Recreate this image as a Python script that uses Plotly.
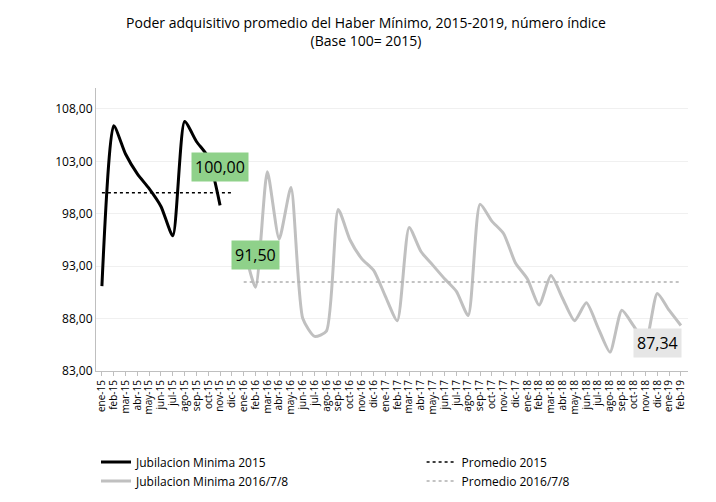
import plotly.graph_objects as go

months = ["ene","feb","mar","abr","may","jun","jul","ago","sep","oct","nov","dic"]
labels = [f"{m}-{y}" for y in range(15, 20) for m in months][:50]

jub2015 = [91.1, 106.4, 103.7, 101.8, 100.4, 98.7, 95.9, 106.8, 104.9, 103.4, 98.8]
jub2016_8 = [94.9, 91.0, 102.0, 95.6, 100.5, 88.0, 86.3, 86.8, 98.4, 95.5, 93.7, 92.6,
             90.1, 87.8, 96.7, 94.4, 93.1, 91.8, 90.6, 88.3, 98.9, 97.3, 96.1, 93.3,
             91.8, 89.3, 92.1, 89.9, 87.8, 89.5, 87.1, 84.8, 88.8, 87.3, 85.7, 90.4,
             88.8, 87.34]
prom2015 = 100.00
prom2016 = 91.50

x15 = labels[:11]
x16 = labels[12:50]

fig = go.Figure()
fig.add_trace(go.Scatter(x=x15, y=jub2015, mode="lines",
                         line=dict(color="black", width=3, shape="spline", smoothing=0.6),
                         name="Jubilacion Minima 2015", legend="legend"))
fig.add_trace(go.Scatter(x=labels[:12], y=[prom2015]*12, mode="lines",
                         line=dict(color="black", width=1.5, dash="dot"), name="Promedio 2015", legend="legend2"))
fig.add_trace(go.Scatter(x=x16, y=jub2016_8, mode="lines",
                         line=dict(color="#c0c0c0", width=3, shape="spline", smoothing=0.6),
                         name="Jubilacion Minima 2016/7/8", legend="legend"))
fig.add_trace(go.Scatter(x=x16, y=[prom2016]*len(x16), mode="lines",
                         line=dict(color="#b0b0b0", width=1.5, dash="dot"), name="Promedio 2016/7/8", legend="legend2"))

font = "Open Sans"
fig.add_annotation(x=labels[10], y=102.5, text="100,00", showarrow=False, bgcolor="#8fd18a",
                   font=dict(size=16, color="black", family=font), borderpad=3)
fig.add_annotation(x=labels[13], y=94.1, text="91,50", showarrow=False, bgcolor="#8fd18a",
                   font=dict(size=16, color="black", family=font), borderpad=3)
fig.add_annotation(x=labels[47], y=85.7, text="87,34", showarrow=False, bgcolor="#e6e6e6",
                   font=dict(size=16, color="black", family=font), borderpad=3)

fig.update_layout(
    width=716, height=502, paper_bgcolor="white", plot_bgcolor="white",
    font=dict(family=font, color="black", size=12),
    margin=dict(l=88, r=36, t=80, b=139),
    title=dict(text="Poder adquisitivo promedio del Haber Mínimo, 2015-2019, número índice<br>(Base 100= 2015)",
               x=0.5, xanchor="center", y=0.96, yanchor="top", font=dict(size=14)),
    xaxis=dict(type="category", categoryorder="array", categoryarray=labels, tickangle=-90,
               tickmode="array", tickvals=labels, ticktext=labels, automargin=False,
               tickfont=dict(size=10), showgrid=False, showline=True, linecolor="#bfbfbf",
               ticks="outside", tickcolor="#bfbfbf", ticklen=4, range=[-0.5, 49.6]),
    yaxis=dict(range=[83, 110], tickvals=[83, 88, 93, 98, 103, 108],
               ticktext=["83,00", "88,00", "93,00", "98,00", "103,00", "108,00"],
               showgrid=True, gridcolor="#f0f0f0", showline=True, linecolor="#bfbfbf",
               tickfont=dict(size=12), zeroline=False),
    legend=dict(x=0.0, y=-0.27, xanchor="left", yanchor="top", font=dict(size=12),
                tracegroupgap=0, bgcolor="rgba(0,0,0,0)"),
    legend2=dict(x=0.55, y=-0.27, xanchor="left", yanchor="top", font=dict(size=12),
                 tracegroupgap=0, bgcolor="rgba(0,0,0,0)"),
)
fig.add_annotation(xref="paper", yref="paper", x=0.5, y=-0.53, xanchor="center", showarrow=False,
                   text="<b>Fuente</b>: elaboración CEPA en base a Anses e IPC CABA, IPC INDEC y REM-BCRA",
                   font=dict(size=14))
fig.write_html("out.html")
